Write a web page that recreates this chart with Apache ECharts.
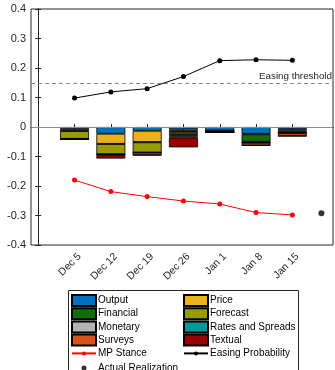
<!DOCTYPE html>
<html><head><meta charset="utf-8">
<script src="https://cdn.jsdelivr.net/npm/echarts@6/dist/echarts.min.js"></script>
<style>html,body{margin:0;padding:0;background:#fff}#c{width:335px;height:370px}</style>
</head><body><div id="c"></div>
<script>
const categories = ['Dec 5','Dec 12','Dec 19','Dec 26','Jan 1','Jan 8','Jan 15'];
const output    = [-0.007,-0.023,-0.013,-0.008,-0.012,-0.023,-0.007];
const price     = [-0.006,-0.034,-0.038,-0.005, 0.000,-0.002,-0.006];
const financial = [-0.001,-0.001,-0.001,-0.004,-0.005,-0.025,-0.005];
const forecast  = [-0.026,-0.034,-0.034,-0.007, 0.000,-0.002,-0.002];
const monetary  = [-0.001,-0.001,-0.001,-0.004, 0.000,-0.001,-0.001];
const rates     = [ 0.000, 0.000, 0.000,-0.004, 0.000,-0.001, 0.000];
const surveys   = [-0.001,-0.002,-0.008,-0.004, 0.000,-0.008,-0.009];
const textual   = [ 0.000,-0.012,-0.001,-0.033,-0.001,-0.001,-0.002];
const mpStance  = [-0.180,-0.219,-0.236,-0.251,-0.261,-0.290,-0.298];
const easingProb= [0.098,0.119,0.130,0.171,0.225,0.228,0.226];
const actualRealization = [7.8,-0.292];
const easingThreshold = 0.15;

const FONT = 'Liberation Sans, Arial, sans-serif';
const xIdx = categories.map((c,i)=>i+1);
const pts = arr => arr.map((v,i)=>[xIdx[i], v]);
const ptsSwap = arr => arr.map((v,i)=>[v, xIdx[i]]);

const barDefs = [
  ['Output', output, '#0072BD'],
  ['Price', price, '#EDB120'],
  ['Financial', financial, '#156B0C'],
  ['Forecast', forecast, '#999900'],
  ['Monetary', monetary, '#B3B3B3'],
  ['Rates and Spreads', rates, '#009999'],
  ['Surveys', surveys, '#D95319'],
  ['Textual', textual, '#990000']
];

const series = barDefs.map(([name, arr, color]) => ({
  name, type:'bar', stack:'c', data: ptsSwap(arr), encode:{x:1, y:0}, barWidth: 29,
  itemStyle:{color, borderColor:'#000', borderWidth:0.8},
  emphasis:{disabled:true}
}));

series.push({
  name:'MP Stance', type:'line', data: pts(mpStance),
  lineStyle:{color:'#FF0000', width:1}, itemStyle:{color:'#FF0000'},
  symbol:'circle', symbolSize:5, z:5,
  markLine:{silent:true, symbol:'none', label:{show:false},
    lineStyle:{color:'#8c8c8c', width:1, type:'solid'},
    data:[{yAxis:0}]}
});
series.push({
  name:'Easing Probability', type:'line', data: pts(easingProb),
  lineStyle:{color:'#000', width:1}, itemStyle:{color:'#000'},
  symbol:'circle', symbolSize:5, z:5,
  markLine:{silent:true, symbol:'none',
    lineStyle:{color:'#8c8c8c', width:1, type:[4,3]},
    label:{show:true, position:'insideEndTop', formatter:'Easing threshold',
      fontFamily:FONT, fontSize:9.8, color:'#262626', distance:[1,1]},
    data:[{yAxis:easingThreshold}]}
});
series.push({
  name:'Actual Realization', type:'scatter', data:[actualRealization],
  symbol:'circle', symbolSize:6, itemStyle:{color:'#000'}, z:6
});

const axisCol = '#262626';
const xCommon = {type:'value', min:-0.2, max:8.12, splitLine:{show:false},
  axisLine:{show:true, lineStyle:{color:axisCol}}};

const legendCommon = {orient:'vertical', itemWidth:24, itemHeight:11, itemGap:0.2,
  padding:0, height:120,
  textStyle:{fontFamily:FONT, fontSize:10, color:'#000', lineHeight:11, padding:[0,0,0,-3]},
  selectedMode:false};
const rectItem = n => ({name:n, icon:'rect'});

const option = {
  animation:false,
  grid:{left:31, right:2, top:9, bottom:125, show:true, borderColor:axisCol, borderWidth:1},
  xAxis:[
    Object.assign({}, xCommon, {position:'bottom',
      axisTick:{show:true, inside:true, length:3, customValues:xIdx, lineStyle:{color:axisCol}},
      axisLabel:{show:true, rotate:45, customValues:xIdx, margin:5, verticalAlign:'top',
        padding:[2,0,0,0],
        formatter: v => categories[Math.round(v)-1] || '',
        fontFamily:FONT, fontSize:10.4, color:'#262626'}}),
    Object.assign({}, xCommon, {position:'top',
      axisTick:{show:true, inside:true, length:3, customValues:xIdx, lineStyle:{color:axisCol}},
      axisLabel:{show:false}})
  ],
  yAxis:[
    {type:'value', min:-0.4, max:0.4, interval:0.1, position:'left', splitLine:{show:false},
     axisLine:{show:true, lineStyle:{color:axisCol}},
     axisTick:{show:true, inside:true, length:3, lineStyle:{color:axisCol}},
     axisLabel:{fontFamily:FONT, fontSize:11, color:'#262626', margin:5,
       formatter: v => Math.abs(v)<1e-9 ? '0' : v.toFixed(1)}},
    {type:'value', min:-0.4, max:0.4, interval:0.1, position:'right', splitLine:{show:false},
     axisLine:{show:true, lineStyle:{color:axisCol}},
     axisTick:{show:true, inside:true, length:3, lineStyle:{color:axisCol}},
     axisLabel:{show:false}}
  ],
  legend:[
    Object.assign({}, legendCommon, {left:71, top:294,
      data:['Output','Financial','Monetary','Surveys'].map(rectItem)}),
    Object.assign({}, legendCommon, {left:183, top:294,
      data:['Price','Forecast','Rates and Spreads','Textual'].map(rectItem)}),
    Object.assign({}, legendCommon, {left:71, top:347.9, itemHeight:5, itemGap:3.6,
      data:['MP Stance','Actual Realization']}),
    Object.assign({}, legendCommon, {left:183, top:347.9, itemHeight:5, itemGap:3.6,
      data:['Easing Probability']})
  ],
  graphic:[{type:'rect', shape:{x:68.5, y:290.5, width:230, height:95},
    style:{fill:'#fff', stroke:'#262626', lineWidth:1}, z:-1}],
  series
};

const chart = echarts.init(document.getElementById('c'), null, {renderer:'canvas'});
chart.setOption(option);
</script></body></html>
